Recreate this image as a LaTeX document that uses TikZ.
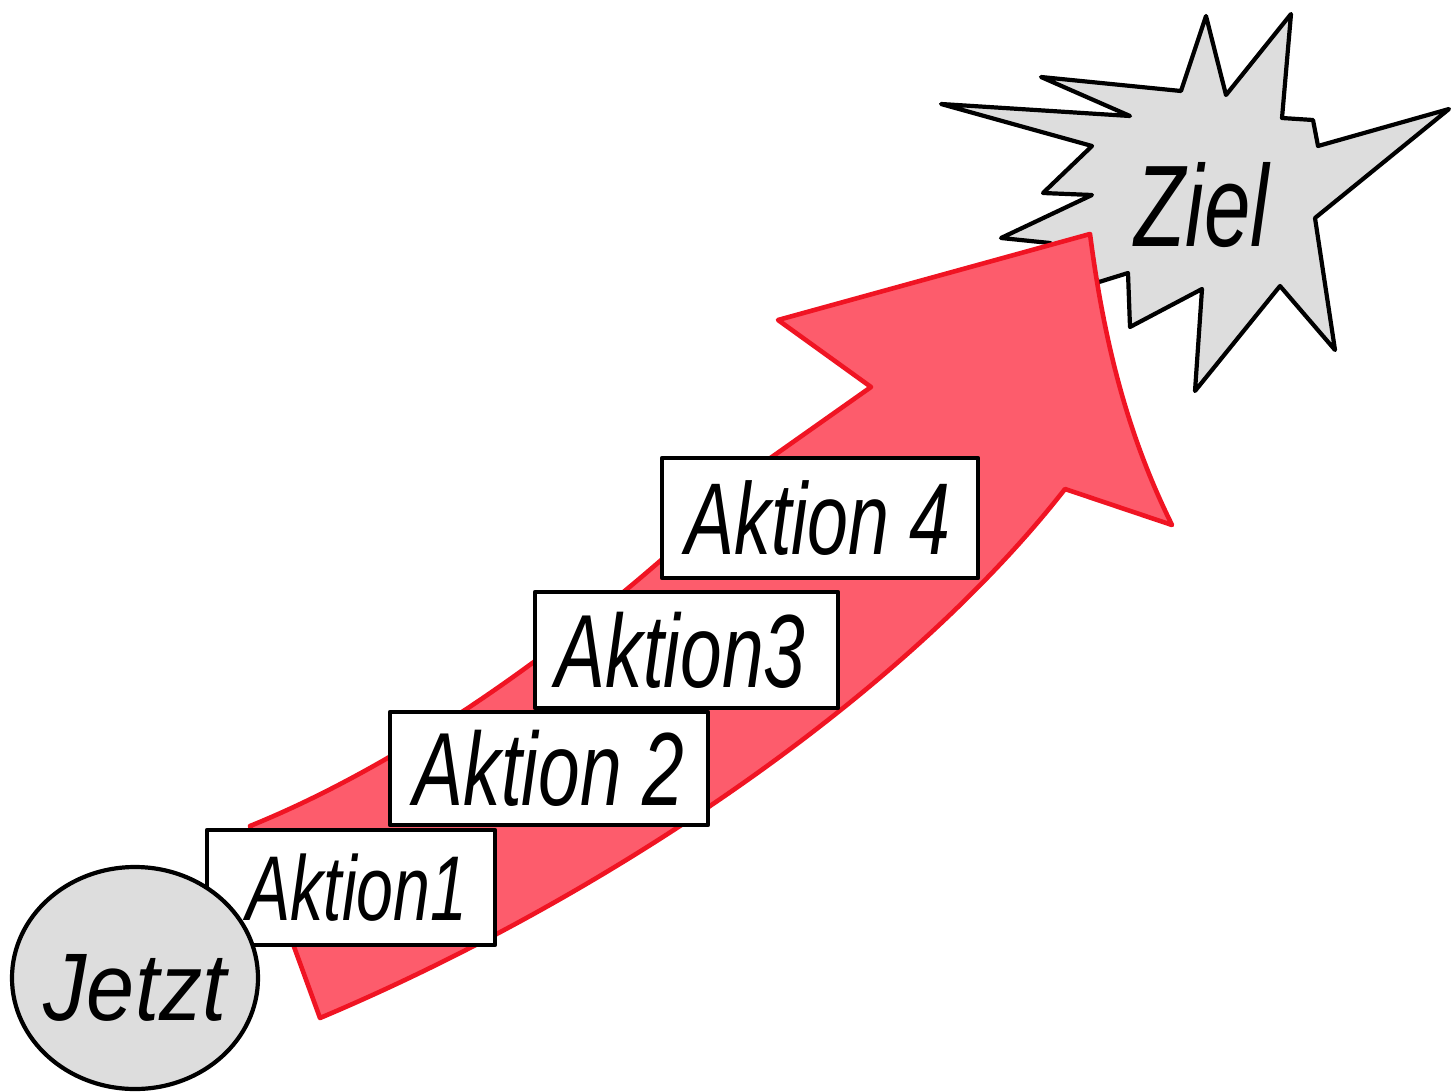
\documentclass[tikz,border=0pt]{standalone}
\usepackage{fontspec}
\usetikzlibrary{shapes.geometric}
\newfontfamily\handfont[FakeStretch=0.72]{Liberation Sans}
\newfontfamily\handwide[FakeStretch=0.9]{Liberation Sans}
\definecolor{arrowfill}{RGB}{253,92,108}
\definecolor{arrowline}{RGB}{240,20,35}
\definecolor{shapegrey}{RGB}{221,221,221}
\begin{document}
\begin{tikzpicture}[x=0.5pt,y=-0.5pt,line join=round,line cap=round,
  inkline/.style={draw=black,line width=2.1pt},
  stepbox/.style={inkline,fill=white,rectangle,inner sep=0pt},
  steptext/.style={font=\handfont\itshape\fontsize{#1}{#1}\selectfont},
  greyshape/.style={inkline,fill=shapegrey},
  bigarrow/.style={draw=arrowline,fill=arrowfill,line width=2.3pt}]
\useasboundingbox (0,0) rectangle (1456,1092);

% goal star
\draw[greyshape] (1001,238) -- (1092,195) -- (1043,193) -- (1092,146) -- (941,104)
  -- (1130,116) -- (1041,77) -- (1181,91) -- (1206,16) -- (1226,95) -- (1291,14)
  -- (1282,118) -- (1313,120) -- (1318,146) -- (1449,109) -- (1315,218)
  -- (1335,350) -- (1280,286) -- (1195,391) -- (1202,289) -- (1130,327)
  -- (1128,273) -- (1099,282) -- (1050,243) -- cycle;
\node[font=\handfont\itshape\fontsize{58}{58}\selectfont] (ziel) at (1202,205) {Ziel};

% red arrow
\draw[bigarrow] (320,1018) -- (250,826)
  .. controls (450,745) and (650,580) .. (769,459)
  -- (871,387) -- (778,320) -- (1090,234)
  .. controls (1105,350) and (1130,440) .. (1172,525)
  -- (1065,489)
  .. controls (900,700) and (600,900) .. (320,1018) -- cycle;

% steps
\node[stepbox,minimum width=151.5pt,minimum height=58pt] (a3) at (686.5,650) {};
\node[stepbox,minimum width=159pt,minimum height=56.5pt] (a2) at (549,768.5) {};
\node[stepbox,minimum width=144pt,minimum height=57.5pt] (a1) at (351,887.5) {};
\node[stepbox,minimum width=158pt,minimum height=60pt] (a4) at (820,518) {};
\node[steptext=46] (t1) at ([xshift=3pt]a1.center) {Aktion1};
\node[steptext=52] (t2) at (a2.center) {Aktion 2};
\node[steptext=52] (t3) at ([xshift=-3pt]a3.center) {Aktion3};
\node[steptext=51] (t4) at ([xshift=-1pt]a4.center) {Aktion 4};

% start circle
\node[greyshape,ellipse,minimum width=123pt,minimum height=111pt,inner sep=0pt] (jetzt) at (135,978) {};
\node[font=\handwide\itshape\fontsize{48}{48}\selectfont] (jt) at ([yshift=-5pt]jetzt.center) {Jetzt};
\end{tikzpicture}
\end{document}
